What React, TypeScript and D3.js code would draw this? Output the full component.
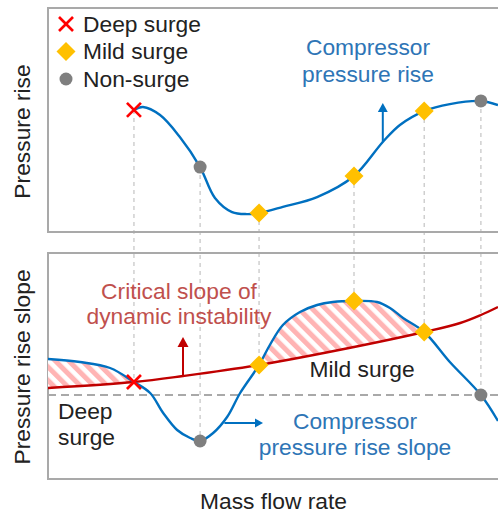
import React from "react";
import * as d3 from "d3";

const W = 498;
const H = 513;

// Mass flow rate runs 0–100 across both panels.
// Compressor pressure rise (top panel, 0–100)
const riseFlow = [21.1, 24.9, 29.3, 37.1, 40.9, 44.2, 52.2, 59.8, 74.4, 78.2, 89.3, 100];
const riseValue = [55.8, 52.2, 42.4, 15.2, 8.9, 8.0, 11.2, 15.6, 40.2, 47.8, 57.1, 56.7];

// Compressor pressure rise slope (bottom panel)
const slopeFlow = [0, 7.1, 13.8, 22.7, 25.6, 28.7, 31.6, 36.7, 39.8, 42.7, 49.3, 52.2, 56.0, 59.8, 63.3, 73.1, 76.0, 78.9, 89.3, 100];
const slopeValue = [0.36, 0.33, 0.27, 0.02, -0.18, -0.35, -0.43, -0.38, -0.22, 0.02, 0.5, 0.7, 0.83, 0.9, 0.93, 0.93, 0.87, 0.77, 0.33, -0.26];

// Critical slope of dynamic instability
const criticalFlow = [0, 19.1, 30.0, 46.9, 68.0, 83.6, 91.6, 96.2, 100];
const criticalValue = [0.07, 0.13, 0.19, 0.3, 0.48, 0.63, 0.72, 0.8, 0.88];

// Operating points
const markerFlow = [19.1, 33.8, 46.9, 68.0, 83.6, 96.2];
const markerKind = ["deep", "non", "mild", "mild", "mild", "non"];
const markerRise = [54.5, 29.0, 8.5, 25.0, 54.0, 58.5];
const markerSlope = [0.13, -0.46, 0.3, 0.94, 0.63, 0.0];

const legendKinds = ["deep", "mild", "non"];
const legendLabels = ["Deep surge", "Mild surge", "Non-surge"];

const FONT = "'Liberation Sans', Arial, Helvetica, sans-serif";
const BLUE = "#0070c0";
const BLUE_TEXT = "#2e75b6";
const RED = "#c00000";
const RED_TEXT = "#c0504d";
const GOLD = "#ffc000";
const GRAY = "#7f7f7f";
const FRAME = "#a9a9a9";

const left = 48;
const right = 498;
const topPanel = { y0: 8, y1: 232 };
const botPanel = { y0: 253, y1: 479 };

type Pt = [number, number];

function merged(fx: number[], fy: number[], mx: number[], my: number[]): Pt[] {
  const pts: Pt[] = fx.map((f, i) => [f, fy[i]] as Pt);
  mx.forEach((f, i) => pts.push([f, my[i]]));
  return pts.sort((a, b) => a[0] - b[0]);
}

function Marker({ kind, cx, cy }: { kind: string; cx: number; cy: number }) {
  if (kind === "deep") {
    const h = 7;
    return (
      <g stroke="#ff0000" strokeWidth={2.6} strokeLinecap="butt">
        <line x1={cx - h} y1={cy - h} x2={cx + h} y2={cy + h} />
        <line x1={cx - h} y1={cy + h} x2={cx + h} y2={cy - h} />
      </g>
    );
  }
  if (kind === "mild") {
    const h = 9.5;
    return <path d={`M${cx},${cy - h}L${cx + h},${cy}L${cx},${cy + h}L${cx - h},${cy}Z`} fill={GOLD} />;
  }
  return <circle cx={cx} cy={cy} r={6.5} fill={GRAY} />;
}

function Arrow({ x1, y1, x2, y2, color, head = 8, width = 2 }: any) {
  const ang = Math.atan2(y2 - y1, x2 - x1);
  const bx = x2 - head * Math.cos(ang);
  const by = y2 - head * Math.sin(ang);
  const hw = head * 0.55;
  const px = -Math.sin(ang) * hw;
  const py = Math.cos(ang) * hw;
  return (
    <g>
      <line x1={x1} y1={y1} x2={bx} y2={by} stroke={color} strokeWidth={width} />
      <path d={`M${x2},${y2}L${bx + px},${by + py}L${bx - px},${by - py}Z`} fill={color} />
    </g>
  );
}

export default function App() {
  const x = d3.scaleLinear().domain([0, 100]).range([left, right]);
  const yRise = d3.scaleLinear().domain([0, 100]).range([topPanel.y1, topPanel.y0]);
  const ySlope = d3.scaleLinear().domain([-0.84, 1.42]).range([botPanel.y1, botPanel.y0]);

  const risePts = merged(riseFlow, riseValue, markerFlow, markerRise);
  const slopePts = merged(slopeFlow, slopeValue, markerFlow, markerSlope);
  const critPts: Pt[] = criticalFlow.map((f, i) => [f, criticalValue[i]]);

  const smooth = d3.curveCatmullRom.alpha(0.5);

  const riseLine = d3
    .line<Pt>()
    .x((d) => x(d[0]))
    .y((d) => yRise(d[1]))
    .curve(smooth);
  const slopeLine = d3
    .line<Pt>()
    .x((d) => x(d[0]))
    .y((d) => ySlope(d[1]))
    .curve(smooth);

  // region below the slope curve, clipped to the region above the critical line
  const belowSlope = d3
    .area<Pt>()
    .x((d) => x(d[0]))
    .y0(botPanel.y1)
    .y1((d) => ySlope(d[1]))
    .curve(smooth);
  const aboveCritical = d3
    .area<Pt>()
    .x((d) => x(d[0]))
    .y0(botPanel.y0)
    .y1((d) => ySlope(d[1]))
    .curve(smooth);

  const textStyle = { fontFamily: FONT, fontSize: 22.8 } as const;

  return (
    <>
      <style>{`body{margin:0;}`}</style>
      <svg width={W} height={H} viewBox={`0 0 ${W} ${H}`} style={{ display: "block", background: "#fff" }}>
        <defs>
          <pattern id="hatch" patternUnits="userSpaceOnUse" width={9.5} height={9.5} patternTransform="rotate(-45)">
            <rect x={0} y={0} width={9.5} height={9.5} fill="#fff" />
            <rect x={0} y={0} width={5} height={9.5} fill="#ffb4b4" />
          </pattern>
          <clipPath id="above-critical">
            <path d={aboveCritical(critPts) || ""} />
          </clipPath>
          <clipPath id="top-clip">
            <rect x={left} y={topPanel.y0} width={right - left} height={topPanel.y1 - topPanel.y0} />
          </clipPath>
          <clipPath id="bot-clip">
            <rect x={left} y={botPanel.y0} width={right - left} height={botPanel.y1 - botPanel.y0} />
          </clipPath>
        </defs>

        {/* guide lines linking each operating point across both panels */}
        {markerFlow.map((f, i) => (
          <line
            key={`g${i}`}
            x1={x(f)}
            x2={x(f)}
            y1={yRise(markerRise[i])}
            y2={ySlope(markerSlope[i])}
            stroke="#c4c4c4"
            strokeWidth={1.2}
            strokeDasharray="4,4"
          />
        ))}

        {/* panel frames */}
        <rect x={left} y={topPanel.y0} width={right - left + 30} height={topPanel.y1 - topPanel.y0} fill="none" stroke={FRAME} strokeWidth={2} />
        <rect x={left} y={botPanel.y0} width={right - left + 30} height={botPanel.y1 - botPanel.y0} fill="none" stroke={FRAME} strokeWidth={2} />

        {/* top panel: pressure rise */}
        <g clipPath="url(#top-clip)">
          <path d={riseLine(risePts) || ""} fill="none" stroke={BLUE} strokeWidth={2.4} />
        </g>

        {/* bottom panel: slopes */}
        <g clipPath="url(#bot-clip)">
          <g clipPath="url(#above-critical)">
            <path d={belowSlope(slopePts) || ""} fill="url(#hatch)" />
          </g>
          <line x1={left} x2={right} y1={ySlope(0)} y2={ySlope(0)} stroke={FRAME} strokeWidth={2} strokeDasharray="8,5" />
          <path d={slopeLine(critPts) || ""} fill="none" stroke={RED} strokeWidth={2.4} />
          <path d={slopeLine(slopePts) || ""} fill="none" stroke={BLUE} strokeWidth={2.4} />
        </g>

        {/* annotation arrows */}
        <Arrow x1={x(74.4)} y1={yRise(40.2)} x2={x(74.4)} y2={103} color={BLUE} head={9} />
        <Arrow x1={x(30.0)} y1={ySlope(0.19)} x2={x(30.0)} y2={337} color={RED} head={10} />
        <Arrow x1={x(39.2)} y1={ySlope(-0.28)} x2={263} y2={ySlope(-0.28)} color={BLUE} head={8} />

        {/* operating point markers */}
        {markerFlow.map((f, i) => (
          <g key={`m${i}`}>
            <Marker kind={markerKind[i]} cx={x(f)} cy={yRise(markerRise[i])} />
            <Marker kind={markerKind[i]} cx={x(f)} cy={ySlope(markerSlope[i])} />
          </g>
        ))}

        {/* legend */}
        {legendKinds.map((k, i) => (
          <g key={`l${i}`}>
            <Marker kind={k} cx={66} cy={24 + i * 27.5} />
            <text x={83} y={31.5 + i * 27.5} {...textStyle} fill="#222">
              {legendLabels[i]}
            </text>
          </g>
        ))}

        {/* labels */}
        <text x={368} y={55} {...textStyle} fill={BLUE_TEXT} textAnchor="middle">Compressor</text>
        <text x={368} y={81.5} {...textStyle} fill={BLUE_TEXT} textAnchor="middle">pressure rise</text>

        <text x={179} y={299} {...textStyle} fill={RED_TEXT} textAnchor="middle">Critical slope of</text>
        <text x={179} y={324} {...textStyle} fill={RED_TEXT} textAnchor="middle">dynamic instability</text>

        <text x={362} y={377} {...textStyle} fill="#222" textAnchor="middle">Mild surge</text>
        <text x={58} y={419} {...textStyle} fill="#222">Deep</text>
        <text x={58} y={445} {...textStyle} fill="#222">surge</text>

        <text x={355} y={429} {...textStyle} fill={BLUE_TEXT} textAnchor="middle">Compressor</text>
        <text x={355} y={455} {...textStyle} fill={BLUE_TEXT} textAnchor="middle">pressure rise slope</text>

        <text transform={`translate(29.5,131.5) rotate(-90)`} {...textStyle} fill="#222" textAnchor="middle">Pressure rise</text>
        <text transform={`translate(29.5,367) rotate(-90)`} {...textStyle} fill="#222" textAnchor="middle">Pressure rise slope</text>
        <text x={273.5} y={509} {...textStyle} fill="#222" textAnchor="middle">Mass flow rate</text>
      </svg>
    </>
  );
}
